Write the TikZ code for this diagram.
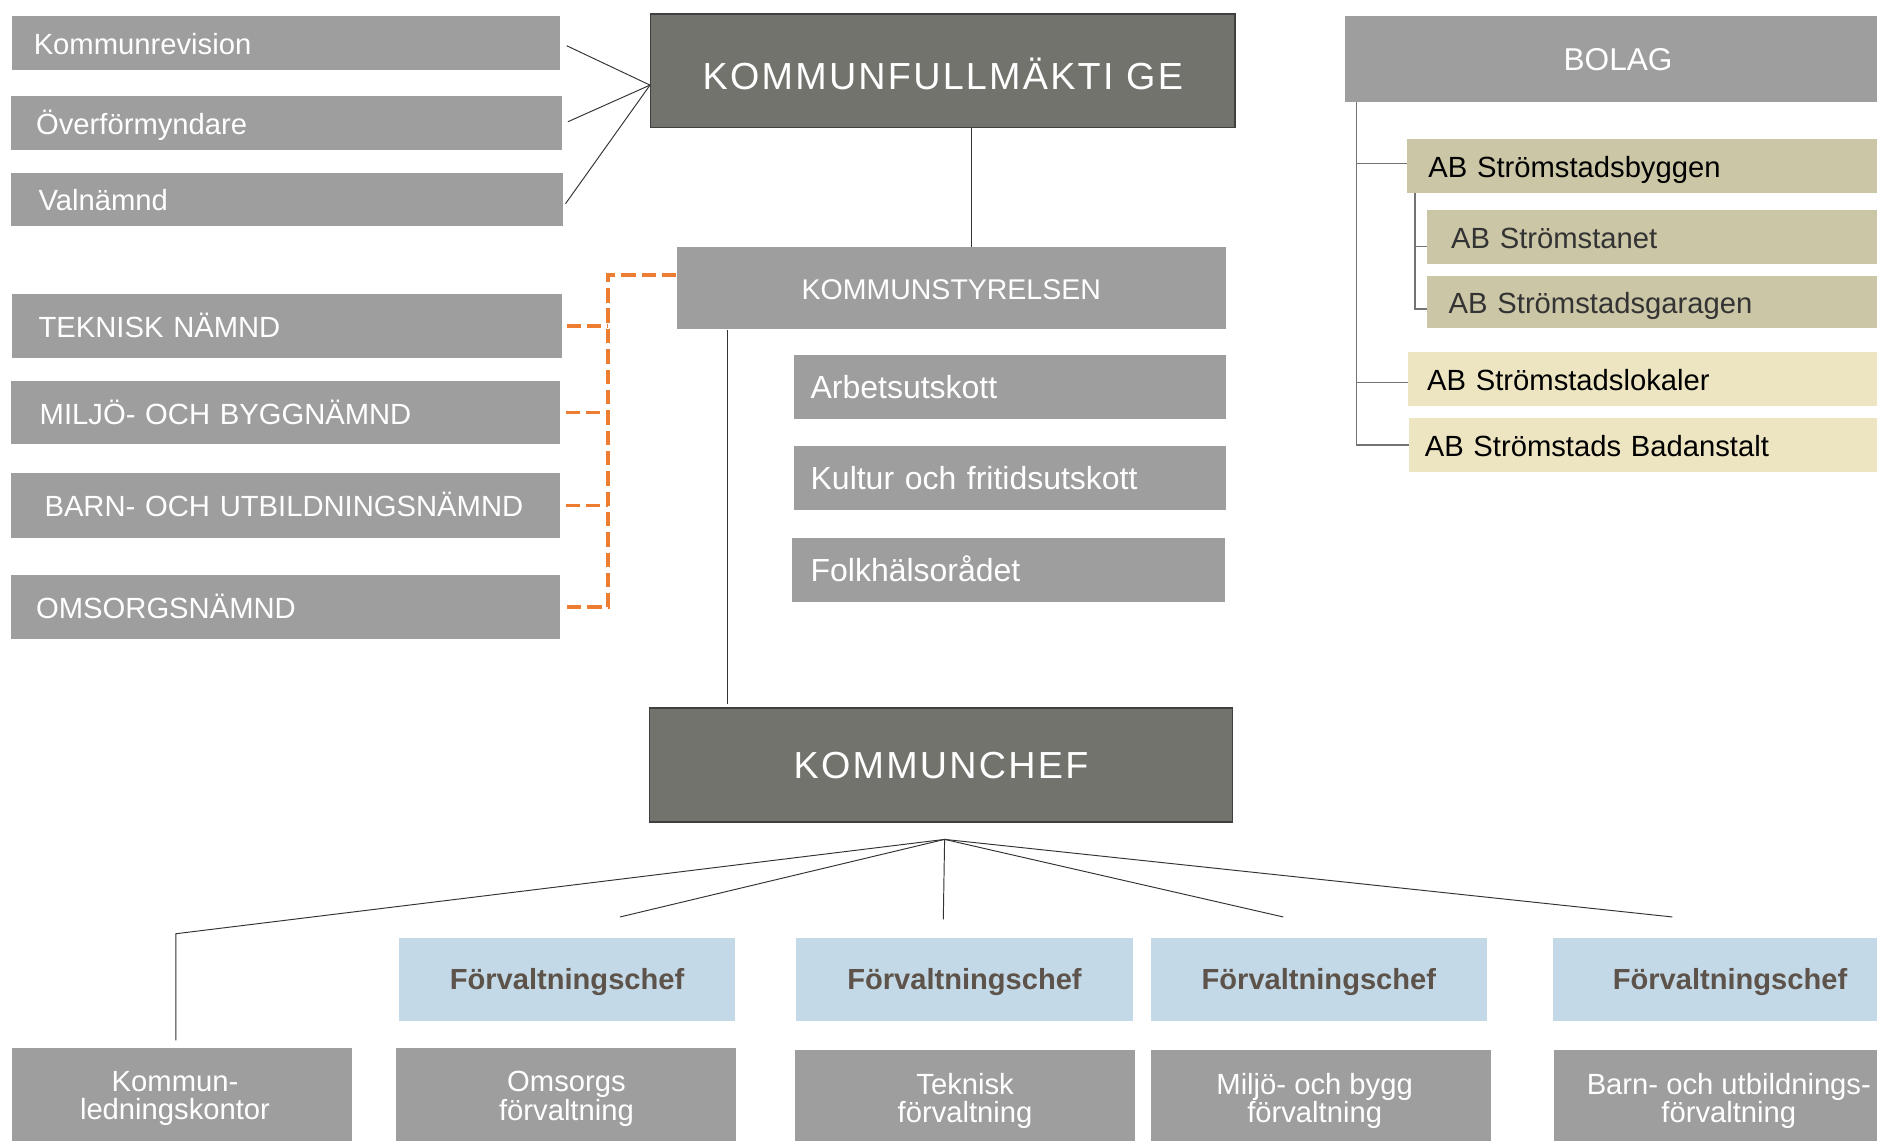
\documentclass[tikz,border=0pt]{standalone}
\usepackage{fontspec}
\setmainfont{Liberation Sans}
\newfontfamily\titlefont[LetterSpace=6]{Liberation Sans}
\usepackage{tikz}

\definecolor{titlegrey}{RGB}{115,115,109}
\definecolor{boxgrey}{RGB}{158,158,158}
\definecolor{khaki}{RGB}{203,198,166}
\definecolor{beige}{RGB}{237,229,193}
\definecolor{chefblue}{RGB}{195,217,231}
\definecolor{chefbrown}{RGB}{94,83,74}
\definecolor{dutyorange}{RGB}{237,125,49}

\begin{document}
\begin{tikzpicture}[x=1pt,y=-1pt,
                    every node/.style={rectangle,anchor=north west,inner ysep=0pt}]
  \tikzstyle{board} = [fill=boxgrey, text=white, align=left, text height=19pt, text depth=0pt,
                       font=\fontsize{24.4}{24}\selectfont]
  \tikzstyle{committee} = [board, font=\fontsize{26.7}{27}\selectfont]
  \tikzstyle{assembly} = [fill=titlegrey, draw=black!75, line width=1.2pt, text=white,
                          font=\titlefont\fontsize{31.5}{32}\selectfont, text depth=0pt,
                          minimum width=488pt, minimum height=95pt]
  \tikzstyle{company} = [fill=khaki, text=black, align=left, text height=19pt, text depth=0pt,
                         font=\fontsize{24.4}{24}\selectfont]
  \tikzstyle{subsidiary} = [company, fill=beige]
  \tikzstyle{head} = [fill=chefblue, text=chefbrown, text height=17.4pt, text depth=0pt,
                      font=\bfseries\fontsize{24.3}{24}\selectfont, minimum height=70pt]
  \tikzstyle{office} = [fill=boxgrey, text=white, align=center, font=\fontsize{24.4}{24}\selectfont,
                        minimum height=85pt]
  \tikzstyle{link} = [draw=black!80, line width=0.8pt]
  \tikzstyle{duty} = [draw=dutyorange, line width=3pt, dash pattern=on 12pt off 5pt]
  \tikzstyle{owner} = [draw=black!55, line width=1pt]

  \useasboundingbox (0,0) rectangle (1568,953);
  \clip (0,0) rectangle (1568,953);

  \node [board, text width=422pt, inner xsep=18pt, minimum height=45pt] (revision) at (10,13) {Kommunrevision};
  \node [board, text width=418pt, inner xsep=21pt, minimum height=45pt] (overformyndare) at (9,80) {Överförmyndare};
  \node [board, text width=415pt, inner xsep=23pt, minimum height=45pt] (valnamnd) at (9,144) {Valnämnd};

  \node [board, text width=415pt, inner xsep=22pt, minimum height=54pt] (teknisk) at (10,245) {TEKNISK NÄMND};
  \node [board, text width=411pt, inner xsep=24pt, minimum height=53pt] (miljo) at (9,318) {MILJÖ- OCH BYGGNÄMND};
  \node [board, text width=403pt, inner xsep=28pt, minimum height=54pt] (barn) at (9,395) {BARN- OCH UTBILDNINGSNÄMND};
  \node [board, text width=417pt, inner xsep=21pt, minimum height=54pt] (omsorg) at (9,480) {OMSORGSNÄMND};

  \node [assembly, text height=32pt] (fullmaktige) at (543,11) {KOMMUNFULLMÄKTI GE};
  \node [board, align=center, minimum width=459pt, minimum height=69pt,
         font=\fontsize{23.8}{24}\selectfont] (styrelsen) at (565,206) {KOMMUNSTYRELSEN};
  \node [committee, text width=333pt, inner xsep=14pt, minimum height=54pt] (arbetsutskott) at (663,296) {Arbetsutskott};
  \node [committee, text width=333pt, inner xsep=14pt, minimum height=54pt] (kultur) at (663,372) {Kultur och fritidsutskott};
  \node [committee, text width=330pt, inner xsep=16pt, minimum height=54pt] (folkhalsa) at (661,449) {Folkhälsorådet};
  \node [assembly, text height=22.6pt, minimum width=487pt] (kommunchef) at (542,591) {KOMMUNCHEF};

  \node [board, align=center, minimum width=457pt, minimum height=72pt,
         font=\fontsize{26.4}{27}\selectfont] (bolag) at (1123,13) {BOLAG};
  \node [company, text width=369pt, inner xsep=18pt, minimum height=45pt] (byggen) at (1175,116) {AB Strömstadsbyggen};
  \node [company, text=black!80, text width=348pt, inner xsep=20pt, minimum height=45pt] (stanet) at (1192,175) {AB Strömstanet};
  \node [company, text=black!80, text width=352pt, inner xsep=18pt, minimum height=44pt] (garagen) at (1192,230) {AB Strömstadsgaragen};
  \node [subsidiary, text width=372pt, inner xsep=16pt, minimum height=45pt] (lokaler) at (1176,294) {AB Strömstadslokaler};
  \node [subsidiary, text width=377pt, inner xsep=13pt, minimum height=45pt] (badanstalt) at (1177,349) {AB Strömstads Badanstalt};

  \node [head, minimum width=281pt] (chefomsorg) at (333,783) {Förvaltningschef};
  \node [head, minimum width=281pt] (chefteknik) at (665,783) {Förvaltningschef};
  \node [head, minimum width=281pt] (chefmiljo) at (961,783) {Förvaltningschef};
  \node [head, minimum width=296pt] (chefbarn) at (1297,783) {Förvaltningschef};

  \node [office, minimum width=284pt] (ledning) at (10,875) {Kommun-\hspace*{12pt}\\ledningskontor\hspace*{12pt}};
  \node [office, minimum width=284pt] (omsorgforv) at (331,875) {Omsorgs\\förvaltning};
  \node [office, minimum width=284pt] (teknikforv) at (664,877) {Teknisk\\förvaltning};
  \node [office, minimum width=284pt] (miljoforv) at (961,877) {Miljö- och bygg\hspace*{10pt}\\förvaltning\hspace*{10pt}};
  \node [office, minimum width=292pt] (barnforv) at (1298,877) {Barn- och utbildnings-\\förvaltning};

  \coordinate (intake) at ([yshift=-12pt]fullmaktige.west);
  \draw [link] ([xshift=5pt,yshift=-2.5pt]revision.east) -- (intake);
  \draw [link] ([xshift=5pt,yshift=1pt]overformyndare.east) -- (intake);
  \draw [link] ([xshift=2pt,yshift=-3.5pt]valnamnd.east) -- (intake);
  \draw [link] ([xshift=24pt]fullmaktige.south) -- ([xshift=24pt]fullmaktige.south |- styrelsen.north);
  \draw [link, shorten >=3pt] ([xshift=43pt]styrelsen.south west) -- ([xshift=43pt]styrelsen.south west |- kommunchef.north);

  \coordinate (bus) at (508,229);
  \draw [duty] ([yshift=11pt]styrelsen.west) -| (omsorg.east -| bus) -- ([xshift=4pt]omsorg.east);
  \foreach \n in {teknisk,miljo,barn}
    \draw [duty] ([xshift=4pt]\n.east) -- (\n.east -| bus);

  \coordinate (hub) at ([xshift=3pt,yshift=-14pt]kommunchef.south);
  \coordinate (tocentral) at (147,780);
  \coordinate (tocare) at (518,766);
  \coordinate (totech) at (788,768);
  \coordinate (toenv) at (1072,766);
  \coordinate (toschool) at (1397,766);
  \draw [link, shorten >=6pt] (hub) -- (tocentral) -- (tocentral |- ledning.north);
  \foreach \e in {tocare,totech,toenv,toschool}
    \draw [link] (hub) -- (\e);

  \coordinate (trunk) at (1133,0);
  \coordinate (subtrunk) at (1182,0);
  \draw [owner] (bolag.south -| trunk) |- (badanstalt.west);
  \draw [owner] ([yshift=2pt]byggen.west -| trunk) -- ([yshift=2pt]byggen.west);
  \draw [owner] ([yshift=-3pt]lokaler.west -| trunk) -- ([yshift=-3pt]lokaler.west);
  \draw [owner] (byggen.south -| subtrunk) |- ([yshift=-6pt]garagen.west);
  \draw [owner] ([yshift=-8pt]stanet.west -| subtrunk) -- ([yshift=-8pt]stanet.west);
\end{tikzpicture}
\end{document}
